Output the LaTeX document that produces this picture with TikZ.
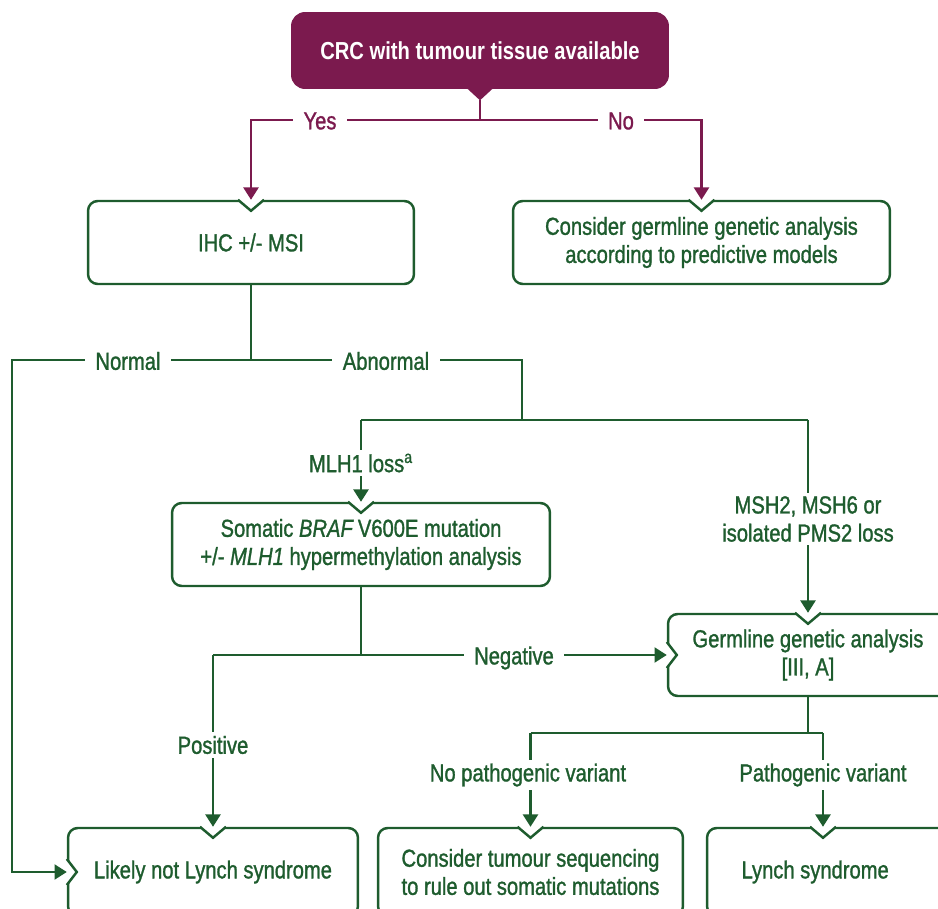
\documentclass[tikz,border=0pt]{standalone}
\usepackage{fontspec}
\setmainfont{Liberation Sans}[FakeStretch=0.82,
    UprightFeatures={FakeBold=1.2}, ItalicFeatures={FakeBold=1.2}]
\usetikzlibrary{arrows.meta,calc}
\definecolor{grn}{RGB}{30,92,46}
\definecolor{prp}{RGB}{123,26,78}
\tikzset{
    box/.style={draw=grn, line width=1.4pt, rounded corners=5.5pt, text=grn,
        align=center, inner sep=0pt, font=\fontsize{14}{16}\selectfont},
    topbox/.style={fill=prp, rounded corners=8pt, text=white, inner sep=0pt,
        font=\bfseries\fontsize{14}{16}\selectfont},
    gline/.style={draw=grn, line width=1.4pt},
    pline/.style={draw=prp, line width=1.4pt},
    tip/.style={-{Triangle[width=8.5pt,length=7pt]}},
    lbl/.style={fill=white, text=grn, inner xsep=6pt, inner ysep=2pt,
        align=center, font=\fontsize{14}{16}\selectfont},
    plbl/.style={lbl, text=prp}
}
% notch in the top edge of a box
\newcommand\topnotch[1]{%
    \fill[white] ($(#1)+(-14,-2)$) -- ($(#1)+(14,-2)$) -- ($(#1)+(0,13)$) -- cycle;
    \draw[gline] ($(#1)+(-13,0)$) -- ($(#1)+(0,11)$) -- ($(#1)+(13,0)$);
}
% notch in the left edge of a box
\newcommand\leftnotch[1]{%
    \fill[white] ($(#1)+(-2,-14)$) -- ($(#1)+(-2,14)$) -- ($(#1)+(12,0)$) -- cycle;
    \draw[gline] ($(#1)+(0,-13)$) -- ($(#1)+(10,0)$) -- ($(#1)+(0,13)$);
}
\begin{document}
\begin{tikzpicture}[x=0.02cm, y=-0.02cm]
\useasboundingbox (0,0) rectangle (938,909);
\clip (0,0) rectangle (938,909);

% boxes
\node[topbox, minimum width=7.56cm, minimum height=1.54cm] (crc) at (480,50.5) {CRC with tumour tissue available};
\node[box, minimum width=6.52cm, minimum height=1.66cm] (ihc) at (251,242.5) {IHC +/- MSI};
\node[box, minimum width=7.54cm, minimum height=1.66cm] (cga) at (701.5,242.5) {Consider germline genetic analysis\\according to predictive models};
\node[box, minimum width=7.56cm, minimum height=1.66cm] (braf) at (361,544.5) {Somatic \textit{BRAF}\,V600E mutation\\+/- \textit{MLH1} hypermethylation analysis};
\node[box, minimum width=5.6cm, minimum height=1.64cm] (gga) at (808,655) {Germline genetic analysis\\{[III, A]}};
\node[box, minimum width=5.8cm, minimum height=1.76cm] (lnl) at (213,872) {Likely not Lynch syndrome};
\node[box, minimum width=6.1cm, minimum height=1.76cm] (cts) at (530.5,872) {Consider tumour sequencing\\to rule out somatic mutations};
\node[box, minimum width=4.96cm, minimum height=1.76cm] (ls) at (831,872) {Lynch syndrome\hspace*{18pt}};

% tail of the top box
\fill[prp] ($(crc.south)+(-13,-1)$) -- ($(crc.south)+(13,-1)$) -- ($(crc.south)+(0,11)$) coordinate (crctip) -- cycle;

% junctions
\coordinate (tsplit) at (480,120);
\coordinate (ihcsplit) at (251,360);
\coordinate (nrm) at (12,360);
\coordinate (abn) at (522,360);
\coordinate (abnsplit) at (522,420);
\coordinate (mlhc) at (361,420);
\coordinate (mshc) at (808,420);
\coordinate (brafsplit) at (361,655);
\coordinate (posc) at (lnl.north |- brafsplit);
\coordinate (ggasplit) at (808,733);
\coordinate (npv) at (cts.north |- ggasplit);
\coordinate (pv) at (823,733);
\coordinate (lsn) at (pv |- ls.north);

% notches
\topnotch{ihc.north}
\topnotch{cga.north}
\topnotch{braf.north}
\topnotch{gga.north}
\leftnotch{gga.west}
\topnotch{lnl.north}
\leftnotch{lnl.west}
\topnotch{cts.north}
\topnotch{lsn}

% connectors
\draw[pline] (crctip) -- (tsplit);
\draw[pline, tip] (tsplit) -| (ihc.north);
\draw[pline, tip] (tsplit) -| (cga.north);
\draw[gline] (ihc.south) -- (ihcsplit);
\draw[gline, tip] (ihcsplit) -- (nrm) |- (lnl.west);
\draw[gline] (ihcsplit) -- (abn) -- (abnsplit);
\draw[gline] (mlhc) -- (mshc);
\draw[gline, tip] (mlhc) -- (braf.north);
\draw[gline, tip] (mshc) -- (gga.north);
\draw[gline] (braf.south) -- (brafsplit);
\draw[gline, tip] (posc) -- (gga.west);
\draw[gline, tip] (posc) -- (lnl.north);
\draw[gline] (gga.south) -- (ggasplit);
\draw[gline] (npv) -- (pv);
\draw[gline, tip] (npv) -- (cts.north);
\draw[gline, tip] (pv) -- (lsn);

% labels
\node[plbl] (yes) at (320,121) {Yes};
\node[plbl] (no) at (621,121) {No};
\node[lbl] (normal) at (128,361) {Normal};
\node[lbl] (abnormal) at (386,361) {Abnormal};
\node[lbl] (mlh) at (361,463) {MLH1 loss\textsuperscript{a}};
\node[lbl] (msh) at (808,519) {MSH2, MSH6 or\\isolated PMS2 loss};
\node[lbl] (neg) at (514,658) {Negative};
\node[lbl] (pos) at (213,745) {Positive};
\node[lbl] (nopath) at (528,775) {No pathogenic variant};
\node[lbl] (path) at (823,775) {Pathogenic variant};
\end{tikzpicture}
\end{document}
